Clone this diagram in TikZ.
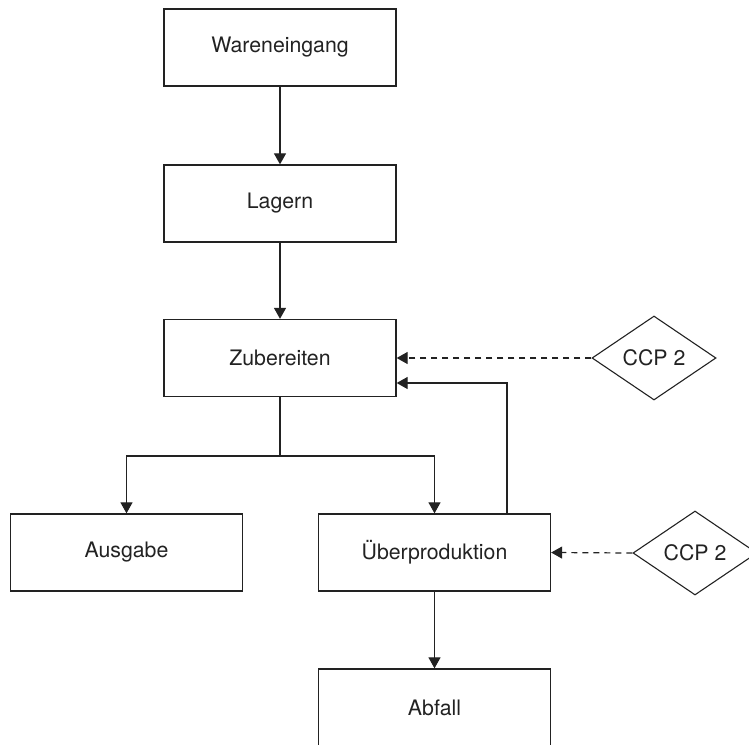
\documentclass[tikz,border=0pt]{standalone}
\usepackage{fontspec}
\setmainfont{TeX Gyre Heros}
\usetikzlibrary{arrows.meta,shapes.geometric}
\definecolor{ink}{HTML}{222222}
\definecolor{txt}{HTML}{222222}
\begin{document}
\begin{tikzpicture}[x=1pt,y=-1pt,
  stepbox/.style={draw=ink,line width=1.3pt,rectangle,minimum width=232pt,minimum height=77pt,inner sep=0pt,
    font=\fontsize{21.3}{25}\selectfont,text=txt},
  ccp/.style={draw=ink,line width=1.1pt,diamond,aspect=1.476,minimum width=124pt,minimum height=84pt,inner sep=0pt,
    font=\fontsize{21.3}{25}\selectfont,text=txt},
  arr/.style={draw=ink,line width=1.2pt,-{Triangle[length=11pt,width=12pt]}},
  darr/.style={arr,dash pattern=on 6pt off 5pt}]
\useasboundingbox (0,0) rectangle (749,744);
\clip (0,0) rectangle (749,744);
\node[stepbox] (W) at (280,47.5) {Wareneingang};
\node[stepbox] (L) at (280,203.5) {Lagern};
\node[stepbox] (Z) at (280,358) {Zubereiten};
\node[stepbox] (A) at (126.5,552.5) {Ausgabe};
\node[stepbox] (U) at (434.5,552.5) {Überproduktion};
\node[stepbox] (F) at (434.5,707.5) {Abfall};
\node[ccp] (C1) at (654,358) {CCP 2};
\node[ccp] (C2) at (695,553) {CCP 2};
\coordinate (J) at (280,456);
\draw[arr] (W) -- (L);
\draw[arr] (L) -- (Z);
\draw[draw=ink,line width=1.2pt] (Z) -- (J);
\draw[arr] (J) -| (A.north);
\draw[arr] (J) -| (U.north);
\draw[arr] ([xshift=72.5pt]U.north) |- ([yshift=-25pt]Z.east);
\draw[darr] (C1.west) -- (Z.east);
\draw[darr] (C2.west) -- (U.east);
\draw[arr] (U) -- (F);
\end{tikzpicture}
\end{document}
